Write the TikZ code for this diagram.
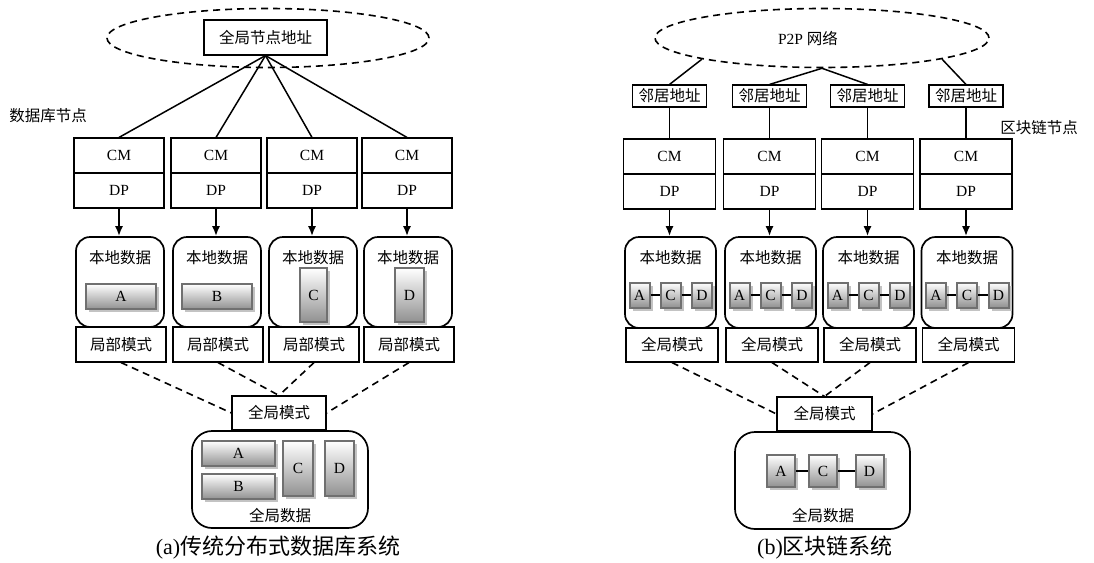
\documentclass[tikz,border=0pt]{standalone}
\usepackage{fontspec}
\setmainfont{Liberation Serif}
\newfontfamily\cjk{Noto Sans CJK SC}
\usetikzlibrary{shapes.geometric,arrows.meta,shadows}
\definecolor{itemborder}{RGB}{112,112,112}
\definecolor{itemshade}{RGB}{145,145,145}
\definecolor{shadowc}{RGB}{195,195,195}
\begin{document}
\begin{tikzpicture}[x=1pt,y=-1pt,
 every node/.style={font=\fontsize{15.5}{18}\selectfont, inner sep=0pt},
 bx/.style={draw, line width=1.1pt, rectangle, minimum height=35pt},
 rbox/.style={draw, line width=1.7pt, rounded corners=14pt},
 item/.style={draw=itemborder, line width=2pt, top color=white, bottom color=itemshade,
   drop shadow={shadow xshift=3pt, shadow yshift=-3pt, fill=shadowc, draw=none, opacity=1}},
 ell/.style={draw, ellipse, line width=1.6pt, dash pattern=on 7pt off 5pt},
 conn/.style={line width=1.5pt},
 arr/.style={line width=1.8pt, -{Latex[length=10pt,width=8pt]}},
 dsh/.style={line width=1.6pt, dash pattern=on 7pt off 5pt},
 captext/.style={font=\fontsize{22}{26}\selectfont}]
\useasboundingbox (0,0) rectangle (1094,562);

% ---------------- left panel ----------------
\node[ell, minimum width=322pt, minimum height=59pt] (ellL) at (268,38) {};
\node[bx, minimum width=123pt] (addr) at (265.5,37.5) {\cjk 全局节点地址};
\node (dbn) at (48,116) {\cjk 数据库节点};

\foreach \i/\x in {1/119,2/216,3/312,4/407} {
  \node[bx, minimum width=90pt] (lcm\i) at (\x,155.5) {CM};
  \node[bx, minimum width=90pt] (ldp\i) at (\x,190.5) {DP};
  \node[rbox, minimum width=88pt, minimum height=90pt] (lloc\i) at (\x+1,282) {};
  \node (lloct\i) at (\x+1,258) {\cjk 本地数据};
  \node[bx, minimum width=90pt] (lpart\i) at (\x+2,344.5) {\cjk 局部模式};
  \draw[conn] (addr.south) -- (lcm\i.north);
  \draw[arr] (ldp\i.south) -- (ldp\i.south |- lloc\i.north);
}
\node[item, minimum width=70pt, minimum height=25pt] (la) at (121,296.5) {A};
\node[item, minimum width=70pt, minimum height=25pt] (lb) at (217,296.5) {B};
\node[item, minimum width=27pt, minimum height=54pt] (lc) at (313.5,295) {C};
\node[item, minimum width=29pt, minimum height=54pt] (ld) at (409.5,295) {D};

\node[rbox, rounded corners=20pt, minimum width=176pt, minimum height=97pt] (lgd) at (280,479.5) {};
\node[bx, minimum width=94pt, minimum height=34pt] (lgm) at (279,413) {\cjk 全局模式};
\node[item, minimum width=73pt, minimum height=25pt] (lga) at (238.5,453.5) {A};
\node[item, minimum width=73pt, minimum height=25pt] (lgb) at (238.5,486.5) {B};
\node[item, minimum width=30pt, minimum height=55pt] (lgc) at (298,468.5) {C};
\node[item, minimum width=29pt, minimum height=55pt] (lgdd) at (339.5,468.5) {D};
\node (lgdt) at (280,516) {\cjk 全局数据};
\draw[dsh] (lpart1.south) -- (lgm.west);
\draw[dsh] (lpart2.south) -- (lgm.north);
\draw[dsh] (lpart3.south) -- (lgm.north);
\draw[dsh] (lpart4.south) -- (lgm.east);
\node[captext] (capa) at (278,548) {(a){\cjk 传统分布式数据库系统}};

% ---------------- right panel ----------------
\node[ell, minimum width=334pt, minimum height=59pt] (ellR) at (822,38) {};
\node (p2p) at (808,38) {P2P {\cjk 网络}};
\node (bcn) at (1039,128) {\cjk 区块链节点};

\foreach \i/\x in {1/669.5,2/769.5,3/867.5,4/966} {
  \node[bx, minimum width=74pt, minimum height=22pt] (nb\i) at (\x,96) {\cjk 邻居地址};
  \node[bx, minimum width=92pt] (rcm\i) at (\x,156.5) {CM};
  \node[bx, minimum width=92pt] (rdp\i) at (\x,191.5) {DP};
  \node[rbox, minimum width=91pt, minimum height=91pt] (rloc\i) at (\x+1,282.5) {};
  \node (rloct\i) at (\x+1,258) {\cjk 本地数据};
  \node[bx, minimum width=92pt, minimum height=34pt] (rgm\i) at (\x+2.5,345) {\cjk 全局模式};
  \draw[conn] (nb\i) -- (rcm\i);
  \draw[arr] (rdp\i.south) -- (rdp\i.south |- rloc\i.north);
  \node[item, minimum width=20pt, minimum height=25pt] (ra\i) at (\x-30,295) {A};
  \node[item, minimum width=20pt, minimum height=25pt] (rc\i) at (\x+1,295) {C};
  \node[item, minimum width=20pt, minimum height=25pt] (rd\i) at (\x+32.5,295) {D};
  \draw[conn] (ra\i) -- (rc\i);
  \draw[conn] (rc\i) -- (rd\i);
}
\draw[conn] (nb1.north) -- (ellR.190);
\draw[conn] (nb2.north) -- (ellR.south);
\draw[conn] (nb3.north) -- (ellR.south);
\draw[conn] (nb4.north) -- (ellR.-10);

\node[rbox, rounded corners=20pt, minimum width=175pt, minimum height=97pt] (rgd) at (822.5,480.5) {};
\node[bx, minimum width=95pt, minimum height=34pt] (rgmg) at (824.5,414) {\cjk 全局模式};
\node[item, minimum width=28pt, minimum height=32pt] (ga) at (781,471) {A};
\node[item, minimum width=28pt, minimum height=32pt] (gc) at (823,471) {C};
\node[item, minimum width=28pt, minimum height=32pt] (gd) at (869.5,471) {D};
\draw[line width=2pt] (ga) -- (gc);
\draw[line width=2pt] (gc) -- (gd);
\node (rgdt) at (823,516) {\cjk 全局数据};
\draw[dsh] (rgm1.south) -- (rgmg.west);
\draw[dsh] (rgm2.south) -- (rgmg.north);
\draw[dsh] (rgm3.south) -- (rgmg.north);
\draw[dsh] (rgm4.south) -- (rgmg.east);
\node[captext] (capb) at (825,548) {(b){\cjk 区块链系统}};
\end{tikzpicture}
\end{document}
